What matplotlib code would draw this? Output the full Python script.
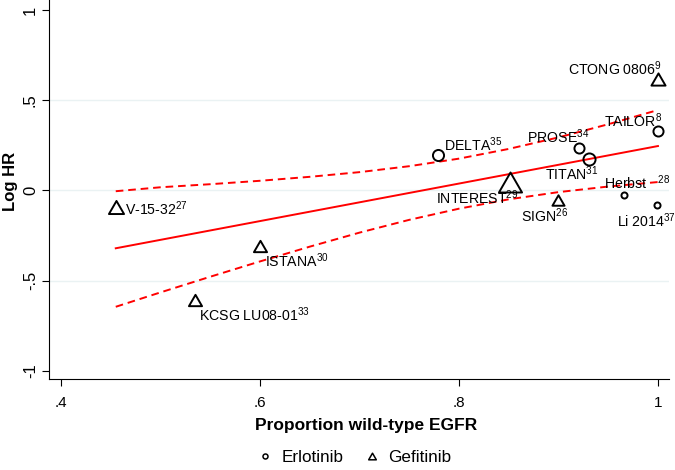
import matplotlib
matplotlib.use('Agg')
import matplotlib.pyplot as plt
from matplotlib.path import Path
from matplotlib.lines import Line2D

plt.rcParams['font.family'] = ['Liberation Sans', 'DejaVu Sans']
plt.rcParams['mathtext.fontset'] = 'custom'
plt.rcParams['mathtext.rm'] = 'Liberation Sans'
plt.rcParams['mathtext.it'] = 'Liberation Sans'
plt.rcParams['mathtext.bf'] = 'Liberation Sans:bold'
plt.rcParams['mathtext.default'] = 'regular'
plt.rcParams['lines.scale_dashes'] = False

# ---------------- data ----------------
erl_names = ['DELTA', 'PROSE', 'TITAN', 'TAILOR', 'Herbst', 'Li 2014']
erl_refs = ['35', '34', '31', '8', '28', '37']
erl_x = [0.779, 0.921, 0.931, 1.0, 0.966, 0.999]
erl_y = [0.197, 0.238, 0.173, 0.330, -0.027, -0.082]
erl_weight = [13, 12, 14, 12, 8, 8]

gef_names = ['CTONG 0806', 'INTEREST', 'SIGN', 'V-15-32', 'ISTANA', 'KCSG LU08-01']
gef_refs = ['9', '29', '26', '27', '30', '33']
gef_x = [1.0, 0.851, 0.900, 0.455, 0.600, 0.535]
gef_y = [0.620, 0.047, -0.053, -0.093, -0.308, -0.608]
gef_weight = [16, 25, 14, 17, 15, 15]

fit_x = [0.455, 1.0]
fit_y = [-0.321, 0.247]

ci_x = [0.455, 0.50, 0.55, 0.60, 0.65, 0.70, 0.75, 0.80, 0.85, 0.90, 0.95, 1.0]
ci_upper = [-0.004, 0.018, 0.035, 0.054, 0.076, 0.102, 0.135, 0.177, 0.231, 0.295, 0.368, 0.447]
ci_lower = [-0.646, -0.566, -0.479, -0.394, -0.312, -0.234, -0.163, -0.101, -0.049, -0.009, 0.022, 0.047]

x_ticks = [0.4, 0.6, 0.8, 1.0]
x_ticklabels = ['.4', '.6', '.8', '1']
y_ticks = [-1, -0.5, 0, 0.5, 1]
y_ticklabels = ['-1', '-.5', '0', '.5', '1']
grid_y = [-0.5, 0, 0.5]

# ---------------- style ----------------
# label offsets (pixels) relative to marker
label_offsets = {
    'DELTA': (6, 4.3), 'PROSE': (-52.3, 4.4), 'TITAN': (-44.3, -20.7),
    'TAILOR': (-54.4, 4.3), 'Herbst': (-20, 6), 'Li 2014': (-40, -21.4),
    'CTONG 0806': (-89.7, 4), 'INTEREST': (-73.3, -22.3), 'SIGN': (-37.6, -21.7),
    'V-15-32': (9.3, -7.7), 'ISTANA': (5, -21.3), 'KCSG LU08-01': (3.6, -20.7),
}
tri = Path([(-1, -0.866), (1, -0.866), (0, 0.866), (-1, -0.866)],
           [Path.MOVETO, Path.LINETO, Path.LINETO, Path.CLOSEPOLY])
MEW = 1.4


def msize(w):
    return (w - 1.9) * 0.72


fig = plt.figure(figsize=(6.75, 4.7), dpi=100)
ax = fig.add_axes([49 / 675, (470 - 379) / 470, (669 - 49) / 675, 379 / 470])
ax.set_xlim(0.3879, 1.0111)
ax.set_ylim(-1.0472, 1.0583)

for g in grid_y:
    ax.axhline(g, color='#eaf2f3', lw=1.0, zorder=0)

ax.plot(ci_x, ci_upper, color='red', lw=1.4, dashes=(5.5, 3.5), zorder=2)
ax.plot(ci_x, ci_lower, color='red', lw=1.4, dashes=(5.5, 3.5), zorder=2)
ax.plot(fit_x, fit_y, color='red', lw=1.4, zorder=2)

for xs, ys, ws, names, refs, mk in [
        (erl_x, erl_y, erl_weight, erl_names, erl_refs, 'o'),
        (gef_x, gef_y, gef_weight, gef_names, gef_refs, tri)]:
    for x, y, w, n, r in zip(xs, ys, ws, names, refs):
        ax.plot([x], [y], ls='none', marker=mk, ms=msize(w), mfc='none',
                mec='black', mew=MEW, zorder=3)
        sep = '   ' if n == 'Herbst' else ''
        ax.annotate(n + sep + '$^{' + r + '}$', xy=(x, y),
                    xytext=label_offsets[n], textcoords='offset pixels',
                    ha='left', va='baseline', fontsize=10.2, zorder=4)

for s in ['top', 'right']:
    ax.spines[s].set_visible(False)
for s in ['left', 'bottom']:
    ax.spines[s].set_linewidth(0.8)

ax.set_xticks(x_ticks)
ax.set_xticklabels(x_ticklabels)
ax.set_yticks(y_ticks)
ax.set_yticklabels(y_ticklabels, rotation=90, va='center')
ax.tick_params(axis='both', length=5, width=0.8, color='black')
ax.tick_params(axis='x', pad=7, labelsize=11)
ax.tick_params(axis='y', pad=3, labelsize=12)

ax.set_xlabel('Proportion wild-type EGFR', fontsize=12.5, fontweight='bold')
ax.xaxis.label.set_va('baseline')
ax.xaxis.set_label_coords((366.5 - 49) / 620, (379 - 430) / 379)
ax.set_ylabel('Log HR', fontsize=12, fontweight='bold')
ax.yaxis.label.set_va('center')
ax.yaxis.set_label_coords((11 - 49) / 620, (379 - 181) / 379)

handles = [Line2D([], [], ls='none', marker='o', ms=3.6, mfc='none', mec='black', mew=1.1),
           Line2D([], [], ls='none', marker=tri, ms=5.5, mfc='none', mec='black', mew=1.1)]
fig.legend(handles, ['Erlotinib', 'Gefitinib'], loc='center',
           bbox_to_anchor=(354 / 675, 1 - 457 / 470), ncol=2, frameon=False,
           fontsize=12.3, handlelength=1.0, handletextpad=0.45, columnspacing=1.2,
           borderpad=0, borderaxespad=0)

fig.savefig('out.png', dpi=100, facecolor='white')
